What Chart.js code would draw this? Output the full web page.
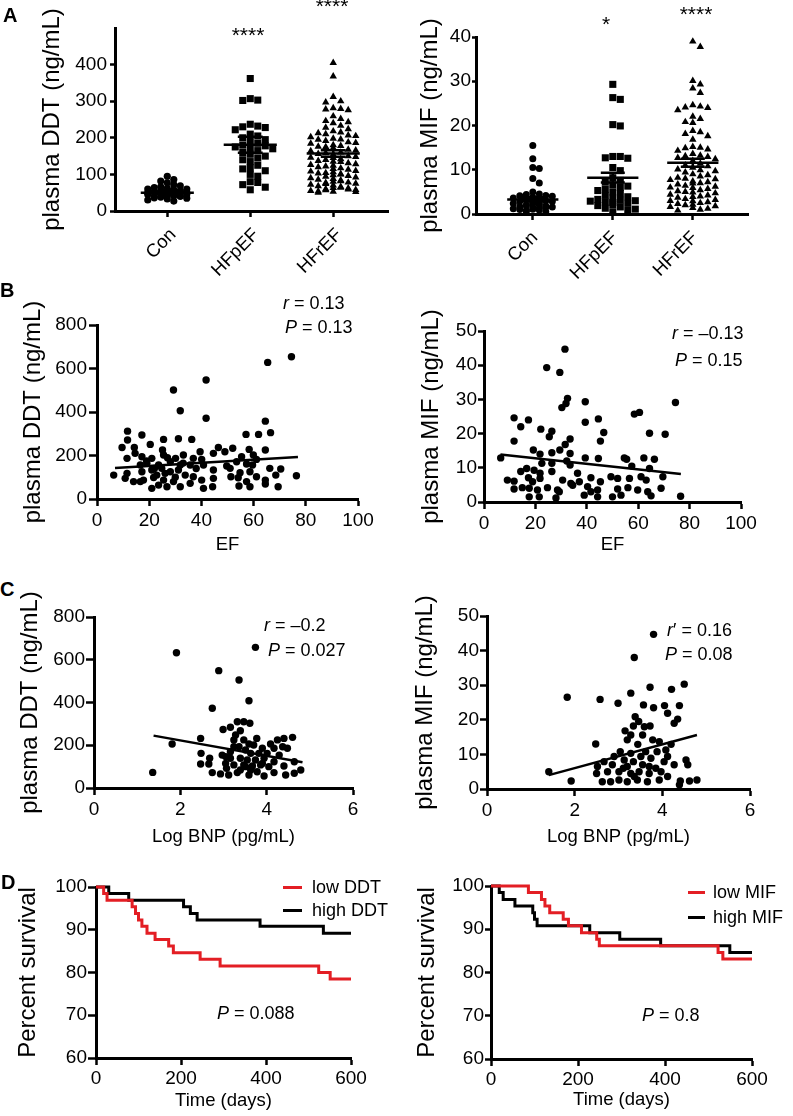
<!DOCTYPE html>
<html>
<head>
<meta charset="utf-8">
<script src="https://cdn.jsdelivr.net/npm/chart.js@4.4.1/dist/chart.umd.min.js"></script>
<style>
  body { margin: 0; background: #fff; }
  #fig { position: relative; width: 793px; height: 1116px; overflow: hidden; background: #fff;
         font-family: 'Liberation Sans', Arial, sans-serif; color: #000; }
  #fig canvas { position: absolute; }
  .t { position: absolute; font-size: 18px; line-height: 1; white-space: nowrap; transform: translateY(-50%); }
  .lab { position: absolute; font-size: 20px; font-weight: bold; line-height: 1; transform: translateY(-50%); }
  .star { position: absolute; font-size: 21px; line-height: 1; transform: translateX(-50%); }
  .leg { position: absolute; display: flex; align-items: center; font-size: 18px; line-height: 1;
         white-space: nowrap; transform: translateY(-50%); }
  .key { display: inline-block; width: 19px; height: 3px; margin-right: 10px; }
</style>
</head>
<body>
<div id="fig">
  <div class="lab" style="left:3px;top:15px">A</div>
  <div class="lab" style="left:0px;top:290px">B</div>
  <div class="lab" style="left:0px;top:589px">C</div>
  <div class="lab" style="left:1px;top:882px">D</div>

  <div class="star" style="left:248px;top:24px">****</div>
  <div class="star" style="left:332px;top:-5px">****</div>
  <div class="star" style="left:606px;top:13px">*</div>
  <div class="star" style="left:696px;top:3px">****</div>

  <div class="t" style="left:283px;top:303px"><i>r</i> = 0.13</div>
  <div class="t" style="left:285px;top:327px"><i>P</i> = 0.13</div>
  <div class="t" style="left:672px;top:333px"><i>r</i> = –0.13</div>
  <div class="t" style="left:675px;top:360px"><i>P</i> = 0.15</div>
  <div class="t" style="left:264px;top:625px"><i>r</i> = –0.2</div>
  <div class="t" style="left:268px;top:650px"><i>P</i> = 0.027</div>
  <div class="t" style="left:667px;top:630px"><i>r</i>′ = 0.16</div>
  <div class="t" style="left:665px;top:654px"><i>P</i> = 0.08</div>
  <div class="t" style="left:217px;top:1013px"><i>P</i> = 0.088</div>
  <div class="t" style="left:642px;top:1015px"><i>P</i> = 0.8</div>

  <div class="leg" style="left:283px;top:887px"><span class="key" style="background:#e31e24"></span>low DDT</div>
  <div class="leg" style="left:283px;top:910px"><span class="key" style="background:#000"></span>high DDT</div>
  <div class="leg" style="left:688px;top:892px"><span class="key" style="background:#e31e24;width:17px;margin-right:8px"></span>low MIF</div>
  <div class="leg" style="left:688px;top:917px"><span class="key" style="background:#000;width:17px;margin-right:8px"></span>high MIF</div>
</div>

<script>
// groups for the dot plots
const groups = ['Con', 'HFpEF', 'HFrEF'];

// A: plasma DDT per group (ng/mL)
const ddtCon = [95, 86, 82, 77, 72, 69, 66, 64, 62, 60, 60, 58, 57, 56, 55, 55, 54, 53, 52, 51,
  50, 50, 49, 48, 47, 46, 45, 45, 44, 43, 42, 41, 40, 39, 38, 36, 35, 33, 30, 27];
const ddtHFpEF = [362, 307, 303, 302, 237, 232, 230, 228, 222, 210, 205, 200, 195, 190, 185, 180,
  178, 175, 172, 170, 165, 160, 155, 150, 145, 140, 135, 125, 118, 115, 110, 100, 95, 80, 78, 72, 65, 58];
const ddtHFrEF = [405, 368, 312, 300, 297, 281, 279, 278, 276, 259, 252, 246, 243, 240, 233, 228,
  224, 218, 215, 213, 210, 207, 205, 202, 198, 196, 195, 192, 188, 186, 184, 180, 178, 176, 175, 172,
  168, 166, 164, 160, 158, 156, 154, 150, 148, 146, 145, 142, 140, 137, 135, 134, 131, 128, 126, 124,
  122, 120, 117, 115, 113, 110, 108, 106, 104, 103, 101, 100, 98, 96, 94, 92, 90, 88, 86, 84, 82, 80,
  78, 77, 75, 74, 72, 70, 68, 66, 64, 63, 62, 60, 59, 58, 57, 55, 54, 53, 52, 50];
const ddtMean = [50, 181, 157];
const ddtSem = [3, 22, 9];

// A: plasma MIF per group (ng/mL)
const mifCon = [15.5, 12.5, 10.5, 10.3, 8, 7, 5, 4.5, 4.4, 4.2, 4.1, 4, 3.8, 3.6, 3.5, 3.3, 3.2, 3,
  2.9, 2.8, 2.6, 2.5, 2.4, 2.3, 2.1, 2, 1.9, 1.8, 1.7, 1.6, 1.5, 1.4, 1.3, 1.2, 1.1, 1, 0.9, 0.8, 0.6, 0.5];
const mifHFpEF = [29.3, 26.3, 25.9, 20.2, 19.9, 13, 13, 12.7, 12.6, 10.5, 9.8, 8.2, 7.6, 7.2, 6.6,
  6.3, 6, 5.6, 5.3, 5, 4.6, 4.2, 3.9, 3.6, 3.3, 3.1, 3, 2.9, 2.7, 2.6, 2.4, 2.1, 1.9, 1.6, 1.3, 1.1, 0.8, 0.5];
const mifHFrEF = [39, 37.8, 30.1, 29.3, 28.4, 27.4, 24.6, 24.3, 24.1, 24, 23.5, 22, 21.5, 20.8, 20.6,
  18.8, 18.5, 18.1, 17.6, 16.8, 15.2, 15, 14.9, 14.6, 14.3, 13.6, 13.2, 13.1, 12.9, 12.7, 12.4, 12,
  11.4, 11, 10.8, 10.5, 10.1, 9.9, 9.7, 9.4, 9, 8.8, 8.5, 8.2, 8, 7.9, 7.7, 7.4, 7.2, 7, 6.9, 6.7, 6.4,
  6.2, 6, 5.9, 5.7, 5.4, 5.2, 5, 4.9, 4.7, 4.4, 4.2, 4, 3.9, 3.7, 3.4, 3.2, 3, 2.9, 2.7, 2.5, 2.3, 2.1,
  2, 1.8, 1.6, 1.4, 1.2, 1, 0.8];
const mifMean = [3.3, 8.2, 11.6];
const mifSem = [0.5, 1.1, 0.9];

// B: EF vs DDT / MIF
const efDdt = [[74.5,654],[65.4,628],[41.8,547],[29.3,501],[31.9,406],[41.8,371],[64.5,358],[11.7,312],
  [17.2,294],[57.1,297],[61.9,297],[66.5,305],[11.7,271],[25.5,274],[31.2,277],[36.3,274],[9.6,237],
  [14.3,237],[20.4,251],[25.1,225],[39.5,217],[46.5,237],[49,217],[52,233],[58.3,228],[64.5,225],
  [44.6,210],[11.5,187],[14.6,210],[17.2,194],[21,187],[25.5,202],[30.1,187],[33.1,202],[36.9,187],
  [40.1,182],[55.4,194],[59.9,202],[61.1,182],[16.6,156],[19.1,164],[23.6,156],[28.1,171],[31.9,156],
  [35.7,156],[40.8,156],[49.7,152],[53.5,171],[57.3,161],[59.6,156],[17.2,125],[21,133],[24.8,141],
  [28.1,125],[31.2,133],[6.4,110],[11.5,118],[22.9,110],[26.1,118],[33.8,110],[44.6,133],[51,141],
  [54.8,121],[58.6,125],[66.2,141],[70.4,138],[76.4,107],[14,80],[10.8,95],[17.8,87],[21.7,99],
  [25.5,87],[29.3,80],[36.9,102],[40.1,87],[44.6,95],[51.3,102],[54.1,98],[57.3,80],[61.1,102],
  [64.5,87],[68.5,110],[21,49],[23.6,64],[26.8,56],[31.9,56],[35.7,72],[40.8,49],[44.3,56],[54.4,60],
  [58.6,56],[64.5,69],[69.4,56],[16.6,80],[19,175],[27,190],[33,165],[38,140],[22,140],[30,100]];
const efDdtFit = [[6.9,142],[77,193]];

const efMif = [[31.5,44.7],[24.4,39.3],[29.5,37.9],[32.5,30.3],[31.9,28.8],[30.3,27.6],[39.4,29.3],
  [74.5,29.1],[58.5,25.7],[60.5,26.2],[11.7,24.6],[17.3,24],[14.3,22],[22.1,21.3],[39.4,23.3],
  [44.5,24.3],[26.4,20.7],[25.4,19.1],[46.6,20.3],[64.4,20.1],[70.5,19.8],[11.7,17.8],[45.3,17.8],
  [33.5,18.4],[31.6,16.8],[6.5,12.9],[19.2,15.2],[21.8,14],[26.4,14.4],[29.5,15.2],[33.5,14.2],
  [39.4,12.9],[44.5,12.7],[54.6,12.9],[55.5,12.5],[62.2,12.9],[66.3,12.5],[32.2,12],[22.5,11.3],
  [26.4,11.3],[33.5,10.8],[57.5,10.5],[64.4,9.8],[14.3,8.9],[16.6,9.8],[19.5,9.3],[21.8,8.4],
  [26.4,8.9],[36.4,8.4],[9.1,6.4],[11.7,6.1],[17.3,7.1],[21.8,6.9],[30.6,6.4],[33.8,5.4],[37.1,5.9],
  [41.6,7.1],[45.3,5.9],[49.4,7.4],[52,6.9],[56.6,6.9],[61.1,7.4],[63.1,6.4],[69.6,7.4],[11.7,3.8],
  [14.9,4.2],[17.6,4],[20.8,3.5],[24.7,4.2],[28.6,3.5],[34.5,4.9],[40.3,4.5],[44.2,3.5],[52,3.8],
  [56,4.2],[59.8,3.5],[63.7,3],[68.9,4],[17.6,1.5],[21.5,1.5],[28,1.2],[39,2],[44.2,1.5],[50,1.5],
  [53.3,2],[65,1.8],[76.5,1.7],[18.9,5.9],[29.3,3],[41.6,3]];
const efMifFit = [[6.4,13.9],[76.6,8.2]];

// C: log BNP vs DDT / MIF
const bnpDdt = [[1.91,633],[3.74,658],[2.89,549],[3.36,505],[3.59,408],[2.74,373],[1.36,73],[1.81,206],
  [2.47,232],[3.32,310],[3.47,310],[3.61,303],[2.99,274],[3.16,284],[3.39,268],[4.6,237],[4.4,232],
  [4.25,225],[4.09,206],[3.77,232],[3.47,225],[3.24,225],[3.59,206],[4.48,186],[3.9,186],[3.36,193],
  [2.48,162],[2.68,139],[2.97,154],[3.16,170],[3.63,162],[4.01,162],[4.29,154],[3.16,139],[3.39,139],
  [3.55,131],[3.74,131],[3.94,139],[4.17,123],[4.64,123],[2.47,112],[2.66,112],[3.05,115],[3.24,108],
  [3.47,108],[3.67,103],[3.86,108],[4.05,100],[4.4,103],[4.79,84],[2.74,72],[2.93,66],[3.12,61],
  [3.32,72],[3.59,61],[3.78,76],[3.94,56],[4.17,72],[4.44,61],[4.64,69],[3.07,92],[3.39,84],[3.63,84],
  [3.24,193],[3.7,201],[3.51,178],[3.82,162],[4.17,186],[4.37,193],[3.28,248],[3.05,147],[3.9,115],
  [3.51,100]];
const bnpDdtFit = [[1.38,245],[4.83,120]];

const bnpMif = [[3.8,44.7],[3.36,38],[1.83,26.5],[2.58,25.9],[2.99,24.8],[3.28,27.7],[3.72,29.4],
  [4.21,28.8],[4.5,30.3],[3.57,24.3],[3.8,23.5],[4.05,24.1],[4.39,24.1],[4.12,21.9],[4.35,20.2],
  [4.27,19],[3.38,20.9],[3.46,19.5],[3.34,18.2],[3.59,18],[3.72,18.2],[3.15,16.8],[3.28,15.6],
  [3.55,15.6],[2.48,13],[3.2,14.2],[3.78,14.2],[3.93,13.7],[3.44,12.9],[4.2,12.9],[4.08,11.3],
  [3.04,10.8],[3.28,10.3],[3.62,10.8],[3.88,10.8],[4.12,9.4],[2.9,9.4],[3.51,9.4],[3.74,8.9],
  [2.67,7.9],[3.13,8.4],[3.34,7.9],[4.04,7.9],[4.54,8.4],[2.52,6.5],[2.86,7],[3.2,6.5],[3.55,7],
  [3.85,6],[4.27,7],[4.58,7],[2.5,4.5],[2.75,5],[3.01,5],[3.28,4.5],[3.47,5],[3.7,4.5],[3.97,5],
  [4.12,3.6],[1.41,5],[2.63,2.1],[2.82,2.1],[3.01,2.6],[3.2,2.1],[3.43,2.6],[3.66,2.1],[3.93,2.6],
  [4.41,2.3],[4.62,2.3],[4.79,2.6],[1.92,2.3],[4.39,1.2],[3.11,6],[3.7,6.5],[3.36,3.6]];
const bnpMifFit = [[1.41,4.0],[4.79,15.6]];

// D: Kaplan-Meier survival (days, percent)
const lowDdtDays = [0, 18, 26, 85, 93, 100, 108, 120, 139, 171, 182, 245, 292, 524, 551, 600];
const lowDdtSurv = [100, 98.5, 96.9, 95.4, 93.8, 92.3, 90.8, 89.2, 87.7, 86.2, 84.6, 83.1, 81.5, 80.0, 78.5, 78.5];
const highDdtDays = [0, 30, 77, 206, 222, 238, 386, 535, 600];
const highDdtSurv = [100, 98.5, 96.9, 95.4, 93.8, 92.3, 90.8, 89.2, 89.2];
const lowMifDays = [0, 86, 116, 124, 135, 166, 178, 208, 243, 249, 522, 533, 600];
const lowMifSurv = [100, 98.5, 96.9, 95.4, 93.8, 92.3, 90.8, 89.2, 87.7, 86.2, 84.6, 83.1, 83.1];
const highMifDays = [0, 19, 28, 55, 96, 100, 106, 227, 296, 390, 549, 600];
const highMifSurv = [100, 98.5, 96.9, 95.4, 93.8, 92.3, 90.8, 89.2, 87.7, 86.2, 84.6, 84.6];

const RED = '#e31e24';
const TICK_SIZE = 19, XTITLE_SIZE = 18.5, YTITLE_SIZE = 24;

Chart.defaults.font.family = "'Liberation Sans', Arial, sans-serif";
Chart.defaults.color = '#000';
Chart.defaults.animation = false;
Chart.defaults.events = [];
Chart.defaults.plugins.legend.display = false;
Chart.defaults.plugins.tooltip.enabled = false;

const fig = document.getElementById('fig');

function axisOpts(o, title, tsize) {
  const ax = {
    type: 'linear', min: o.min, max: o.max,
    ticks: { padding: o.pad, autoSkip: false, maxRotation: o.rot || 0, minRotation: o.rot || 0,
             labelOffset: o.lo || 0, font: { size: o.fs || TICK_SIZE }, color: '#000' },
    grid: { drawOnChartArea: false, drawTicks: true, tickLength: o.tl, tickWidth: 2.5, tickColor: '#000' },
    border: { display: true, color: '#000', width: 3 },
    title: { display: !!title, text: title || '', font: { size: tsize }, color: '#000', padding: 0 }
  };
  if (o.step) ax.ticks.stepSize = o.step;
  if (o.ticks) ax.afterBuildTicks = s => { s.ticks = o.ticks.map(v => ({ value: v })); };
  if (o.labels) ax.ticks.callback = (v, i) => o.labels[i];
  return ax;
}

function buildPanel(p) {
  const lhY = YTITLE_SIZE * 1.2, lhX = XTITLE_SIZE * 1.2;
  const bx = Math.floor(p.yTitleX - lhY / 2);
  const padL = p.yTitleX - lhY / 2 - bx;
  const W = p.area.l - bx - padL;
  const by = p.area.t - 30;
  let bottom, padB, H;
  if (p.xTitle) {
    const edge = p.xTitleY + lhX / 2;
    bottom = Math.ceil(edge); padB = bottom - edge; H = edge - p.area.b;
  } else {
    bottom = p.area.b + 70; padB = 0; H = 70;
  }
  const right = p.area.r + 40;
  const cv = document.createElement('canvas');
  cv.width = right - bx; cv.height = bottom - by;
  cv.style.left = bx + 'px'; cv.style.top = by + 'px';
  fig.insertBefore(cv, fig.firstChild);

  const xs = axisOpts(p.x, p.xTitle, XTITLE_SIZE);
  xs.afterFit = s => { s.height = H; };
  const ys = axisOpts(p.y, p.yTitle, YTITLE_SIZE);
  ys.afterFit = s => { s.width = W; };

  return new Chart(cv, {
    type: 'scatter',
    data: { datasets: p.datasets },
    options: {
      responsive: false,
      layout: { padding: { left: padL, top: 30, right: 40, bottom: padB } },
      scales: { x: xs, y: ys }
    }
  });
}

function dots(data, style, r) {
  return { data: data, pointStyle: style, pointRadius: r, pointBackgroundColor: '#000',
           pointBorderWidth: 0, borderWidth: 0, clip: false };
}
function line(data, color, w, stepped) {
  return { data: data, showLine: true, borderColor: color, borderWidth: w, pointRadius: 0,
           stepped: !!stepped, spanGaps: false, clip: false, fill: false };
}
const pairs = arr => arr.map(([x, y]) => ({ x: x, y: y }));
const km = (t, s) => t.map((d, i) => ({ x: d, y: s[i] }));

function meanSem(mean, sem, halfW, capW) {
  const gap = { x: NaN, y: NaN };
  const pts = [];
  mean.forEach((m, i) => {
    const c = i + 1, hi = m + sem[i], lo = m - sem[i];
    pts.push({ x: c - halfW, y: m }, { x: c + halfW, y: m }, gap,
             { x: c, y: lo }, { x: c, y: hi }, gap,
             { x: c - capW, y: hi }, { x: c + capW, y: hi }, gap,
             { x: c - capW, y: lo }, { x: c + capW, y: lo }, gap);
  });
  return pts;
}

// spread one group's points sideways within a fixed band (dot plot layout)
function swarm(chart, dsIndex, center, values, dx, dyTol, maxHalf) {
  const xs = chart.scales.x, ys = chart.scales.y;
  const pxPerX = xs.getPixelForValue(1) - xs.getPixelForValue(0);
  const cands = [];
  for (let k = 0; Math.ceil(k / 2) * dx <= maxHalf; k++) cands.push((k % 2 ? 1 : -1) * Math.ceil(k / 2) * dx);
  const placed = [];
  chart.data.datasets[dsIndex].data = values.map(v => {
    const py = ys.getPixelForValue(v);
    let best = 0, bestHits = Infinity;
    for (const off of cands) {
      const hits = placed.filter(q => Math.abs(q.x - off) < dx - 0.5 && Math.abs(q.y - py) < dyTol).length;
      if (hits < bestHits) { bestHits = hits; best = off; if (hits === 0) break; }
    }
    placed.push({ x: best, y: py });
    return { x: center + best / pxPerX, y: v };
  });
}

// ---- A left: DDT dot plot
const chA1 = buildPanel({
  area: { l: 115, t: 28, r: 388, b: 211 }, yTitleX: 52,
  yTitle: 'plasma DDT (ng/mL)',
  x: { min: 0.37, max: 3.66, ticks: [1, 2, 3], labels: groups, rot: 45, tl: 6, pad: 7, lo: 6, fs: 18.5 },
  y: { min: 0, max: 500, ticks: [0, 100, 200, 300, 400], tl: 5, pad: 3 },
  datasets: [dots([], 'circle', 3.6), dots([], 'rect', 5), dots([], 'triangle', 4.3),
             line(meanSem(ddtMean, ddtSem, 0.32, 0.15), '#000', 2.5)]
});
swarm(chA1, 0, 1, ddtCon, 6.5, 5, 24);
swarm(chA1, 1, 2, ddtHFpEF, 7.5, 6, 27);
swarm(chA1, 2, 3, ddtHFrEF, 7.5, 6, 27);
chA1.update('none');

// ---- A right: MIF dot plot
const chA2 = buildPanel({
  area: { l: 476, t: 37, r: 748, b: 214 }, yTitleX: 430,
  yTitle: 'plasma MIF (ng/mL)',
  x: { min: 0.29, max: 3.69, ticks: [1, 2, 3], labels: groups, rot: 45, tl: 6, pad: 7, lo: 2, fs: 18.5 },
  y: { min: 0, max: 40, step: 10, tl: 4, pad: 1 },
  datasets: [dots([], 'circle', 3.5), dots([], 'rect', 5), dots([], 'triangle', 4.3),
             line(meanSem(mifMean, mifSem, 0.32, 0.15), '#000', 2.5)]
});
swarm(chA2, 0, 1, mifCon, 6.5, 5, 22);
swarm(chA2, 1, 2, mifHFpEF, 7.5, 6, 27);
swarm(chA2, 2, 3, mifHFrEF, 7.5, 6, 27);
chA2.update('none');

// ---- B
buildPanel({
  area: { l: 97, t: 325, r: 358, b: 499 }, yTitleX: 33, xTitleY: 545,
  yTitle: 'plasma DDT (ng/mL)', xTitle: 'EF',
  x: { min: 0, max: 100, step: 20, tl: 7, pad: 3 },
  y: { min: 0, max: 800, step: 200, tl: 8, pad: 2 },
  datasets: [dots(pairs(efDdt), 'circle', 3.7), line(pairs(efDdtFit), '#000', 2.5)]
});
buildPanel({
  area: { l: 484, t: 331, r: 741, b: 502 }, yTitleX: 431, xTitleY: 545,
  yTitle: 'plasma MIF (ng/mL)', xTitle: 'EF',
  x: { min: 0, max: 100, step: 20, tl: 7, pad: 3 },
  y: { min: 0, max: 50, step: 10, tl: 6, pad: 1 },
  datasets: [dots(pairs(efMif), 'circle', 3.7), line(pairs(efMifFit), '#000', 2.5)]
});

// ---- C
buildPanel({
  area: { l: 94, t: 617, r: 353, b: 788 }, yTitleX: 30, xTitleY: 837,
  yTitle: 'plasma DDT (ng/mL)', xTitle: 'Log BNP (pg/mL)',
  x: { min: 0, max: 6, step: 2, tl: 7, pad: 3 },
  y: { min: 0, max: 800, step: 200, tl: 8, pad: 1 },
  datasets: [dots(pairs(bnpDdt), 'circle', 3.7), line(pairs(bnpDdtFit), '#000', 2.5)]
});
buildPanel({
  area: { l: 487, t: 616, r: 750, b: 789 }, yTitleX: 425, xTitleY: 837,
  yTitle: 'plasma MIF (ng/mL)', xTitle: 'Log BNP (pg/mL)',
  x: { min: 0, max: 6, step: 2, tl: 7, pad: 3 },
  y: { min: 0, max: 50, step: 10, tl: 7, pad: 1 },
  datasets: [dots(pairs(bnpMif), 'circle', 3.7), line(pairs(bnpMifFit), '#000', 2.5)]
});

// ---- D
buildPanel({
  area: { l: 96, t: 887, r: 351, b: 1058 }, yTitleX: 28, xTitleY: 1101,
  yTitle: 'Percent survival', xTitle: 'Time (days)',
  x: { min: 0, max: 600, step: 200, tl: 7, pad: 2 },
  y: { min: 60, max: 100, step: 10, tl: 8, pad: 1 },
  datasets: [line(km(lowDdtDays, lowDdtSurv), RED, 3, true),
             line(km(highDdtDays, highDdtSurv), '#000', 3, true)]
});
buildPanel({
  area: { l: 491, t: 886, r: 752, b: 1059 }, yTitleX: 427, xTitleY: 1100,
  yTitle: 'Percent survival', xTitle: 'Time (days)',
  x: { min: 0, max: 600, step: 200, tl: 7, pad: 2 },
  y: { min: 60, max: 100, step: 10, tl: 6, pad: 1 },
  datasets: [line(km(lowMifDays, lowMifSurv), RED, 3, true),
             line(km(highMifDays, highMifSurv), '#000', 3, true)]
});
</script>
</body>
</html>
